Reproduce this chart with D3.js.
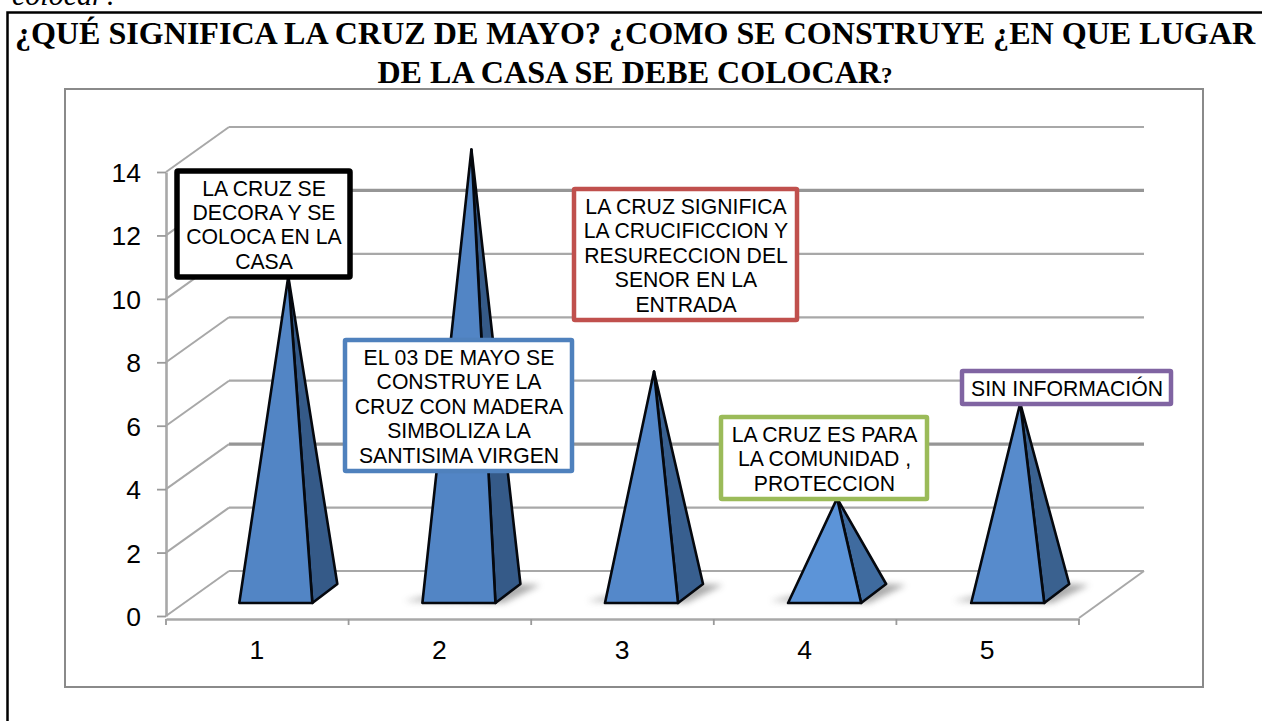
<!DOCTYPE html>
<html><head><meta charset="utf-8">
<script src="https://cdn.jsdelivr.net/npm/d3@7"></script>
<style>html,body{margin:0;padding:0;background:#fff;overflow:hidden}svg{display:block}</style>
</head><body><div id="c"></div>
<script>
const categories = ["1","2","3","4","5"];
const values = [10,14,7,3,6];
const yTickValues = [0,2,4,6,8,10,12,14];
const heavyGridValues = [12,4];
const titleLines = [["¿QUÉ SIGNIFICA LA CRUZ DE MAYO? ¿COMO SE CONSTRUYE ¿EN QUE LUGAR",""],["DE LA CASA SE DEBE COLOCAR","?"]];
const calloutTexts = [
  ["LA CRUZ SIGNIFICA","LA CRUCIFICCION Y","RESURECCION DEL","SENOR EN LA","ENTRADA"],
  ["LA CRUZ SE","DECORA Y SE","COLOCA EN LA","CASA"],
  ["EL 03 DE MAYO SE","CONSTRUYE LA","CRUZ CON MADERA","SIMBOLIZA LA","SANTISIMA VIRGEN"],
  ["LA CRUZ ES PARA","LA COMUNIDAD ,","PROTECCION"],
  ["SIN INFORMACIÓN"]
];
const calloutColors = ["#c0504d","#000000","#4f81bd","#9bbb59","#8064a2"];
const calloutBoxes = [[574,189,223,131,4.5],[177,171,173,106,5.5],[345,340,227,131,4.5],[721,417,206,82,4.5],[962,371,209,33,4.5]];

const W=1262,H=721;
const svg=d3.select("#c").append("svg").attr("width",W).attr("height",H);
const defs=svg.append("defs");
defs.append("filter").attr("id","soft").attr("x","-5%").attr("y","-50%").attr("width","110%").attr("height","200%")
  .append("feGaussianBlur").attr("stdDeviation",0.55);
defs.append("filter").attr("id","shadow").attr("x","-30%").attr("y","-100%").attr("width","160%").attr("height","300%")
  .append("feGaussianBlur").attr("stdDeviation",3);

const x=d3.scaleBand().domain(categories).range([166,1079]).paddingInner(0).paddingOuter(0);
const y=d3.scaleLinear().domain([0,14]).range([616,172]);
const depthX=63,depthY=-45;

// page frame
svg.append("text").attr("x",12).attr("y",5).attr("font-family","Liberation Serif").attr("font-style","italic")
  .attr("font-size",30).attr("fill","#000").text("colocar?");
svg.append("path").attr("d",`M7.5,${H}V12.5H${W}`).attr("fill","none").attr("stroke","#000").attr("stroke-width",2.5);
const tl=svg.append("g").selectAll("text").data(titleLines).join("text")
  .attr("x",635).attr("y",(d,i)=>44+i*39).attr("text-anchor","middle")
  .attr("font-family","Liberation Serif").attr("font-weight","bold").attr("font-size",32.1).attr("fill","#000");
tl.append("tspan").text(d=>d[0]);
tl.append("tspan").attr("font-size",23).text(d=>d[1]);

svg.append("rect").attr("x",65).attr("y",89).attr("width",1138).attr("height",598)
  .attr("fill","#fff").attr("stroke","#8a8a8a").attr("stroke-width",2);

// walls
const grid=svg.append("g").attr("filter","url(#soft)").attr("fill","none").attr("stroke","#a8a8a8");
grid.selectAll("line.back").data(yTickValues).join("line").attr("class","back")
  .attr("x1",x.range()[0]+depthX).attr("x2",x.range()[1]+depthX+2)
  .attr("y1",d=>y(d)+depthY).attr("y2",d=>y(d)+depthY)
  .attr("stroke",d=>heavyGridValues.includes(d)?"#969696":"#a8a8a8")
  .attr("stroke-width",d=>heavyGridValues.includes(d)?3.2:2.2);
grid.selectAll("line.side").data(yTickValues).join("line").attr("class","side")
  .attr("x1",x.range()[0]).attr("x2",x.range()[0]+depthX)
  .attr("y1",d=>y(d)).attr("y2",d=>y(d)+depthY).attr("stroke-width",2);
grid.append("line").attr("x1",x.range()[1]).attr("y1",y(0)+2).attr("x2",x.range()[1]+depthX+2).attr("y2",y(0)+depthY).attr("stroke-width",2);

// axes
const axisFont=g=>g.attr("font-family","Liberation Sans").attr("font-size",26.5)
  .call(s=>s.selectAll("text").attr("fill","#000"))
  .call(s=>s.selectAll("line").attr("stroke","#9a9a9a").attr("stroke-width",1.8))
  .call(s=>s.select(".domain").attr("stroke","#a8a8a8").attr("stroke-width",2.6));
svg.append("g").attr("transform",`translate(${x.range()[0]},0)`)
  .call(d3.axisLeft(y).tickValues(yTickValues).tickSize(9).tickPadding(16).tickSizeOuter(0)).call(axisFont)
  .call(s=>s.selectAll("text").attr("dy","0.36em"));
const xAxisY=y(0)+3;
svg.append("g").attr("transform",`translate(-0.5,${xAxisY})`)
  .call(d3.axisBottom(x).tickSize(0).tickPadding(21)).call(axisFont)
  .call(s=>s.select(".domain").attr("transform","translate(0.5,0)"));
const edges=categories.map(c=>x(c)).concat(x.range()[1]);
svg.append("g").selectAll("line").data(edges).join("line")
  .attr("x1",d=>d).attr("x2",d=>d).attr("y1",xAxisY).attr("y2",xAxisY+6)
  .attr("stroke","#9a9a9a").attr("stroke-width",1.8);

// pyramids
const baseW=x.step()*0.4, bdx=25, bdy=-19;
const py=svg.append("g");
const blue=d3.scaleOrdinal().domain(categories).range(["#5285c5","#5285c5","#5488ca","#5c94d8","#578bcc"]);
const dark=d3.scaleOrdinal().domain(categories).range(["#355a88","#355a88","#385f8f","#3f6b9f","#3a618f"]);
const offsets=[18.5,19,19,19.5,20];
const rows=categories.map((c,i)=>{
  const cx=x(c)+x.bandwidth()/2+offsets[i], yf=y(0)-13;
  return {c,v:values[i],l:cx-baseW/2,r:cx+baseW/2,yf,bx:cx+baseW/2+bdx,by:yf+bdy,ax:cx+bdx/2,ay:y(values[i])+bdy/2+(yf-y(0))};
});
py.selectAll("path.sh").data(rows.filter((d,i)=>i>0)).join("path").attr("class","sh")
  .attr("d",d=>`M${d.l-18},${d.yf-2}L${d.l},${d.yf-6}L${d.bx},${d.by}L${d.bx+20},${d.by+1}L${d.r+8},${d.yf}Z`)
  .attr("fill","#666").attr("opacity",.55).attr("filter","url(#shadow)");
py.selectAll("path.side").data(rows).join("path").attr("class","side")
  .attr("d",d=>`M${d.r},${d.yf}L${d.bx},${d.by}L${d.ax},${d.ay}Z`)
  .attr("fill",d=>dark(d.c)).attr("stroke","#05080e").attr("stroke-width",2.6).attr("stroke-linejoin","round");
py.selectAll("path.front").data(rows).join("path").attr("class","front")
  .attr("d",d=>`M${d.l},${d.yf}L${d.r},${d.yf}L${d.ax},${d.ay}Z`)
  .attr("fill",d=>blue(d.c)).attr("stroke","#05080e").attr("stroke-width",2.6).attr("stroke-linejoin","round");

// callouts
const call=svg.append("g").selectAll("g").data(calloutTexts).join("g");
call.append("rect")
  .attr("x",(d,i)=>calloutBoxes[i][0]).attr("y",(d,i)=>calloutBoxes[i][1])
  .attr("width",(d,i)=>calloutBoxes[i][2]).attr("height",(d,i)=>calloutBoxes[i][3])
  .attr("fill","#fff").attr("stroke",(d,i)=>calloutColors[i]).attr("stroke-width",(d,i)=>calloutBoxes[i][4]).attr("rx",1);
call.each(function(lines,i){
  const b=calloutBoxes[i],lh=24.4,cy=b[1]+b[3]/2,top=cy-lh*lines.length/2;
  d3.select(this).selectAll("text").data(lines).join("text")
    .attr("x",b[0]+b[2]/2+0.5).attr("y",(d,j)=>top+lh*j+lh/2+8.2)
    .attr("text-anchor","middle").attr("font-family","Liberation Sans").attr("font-size",21.2).attr("fill","#000").text(d=>d);
});
</script></body></html>
